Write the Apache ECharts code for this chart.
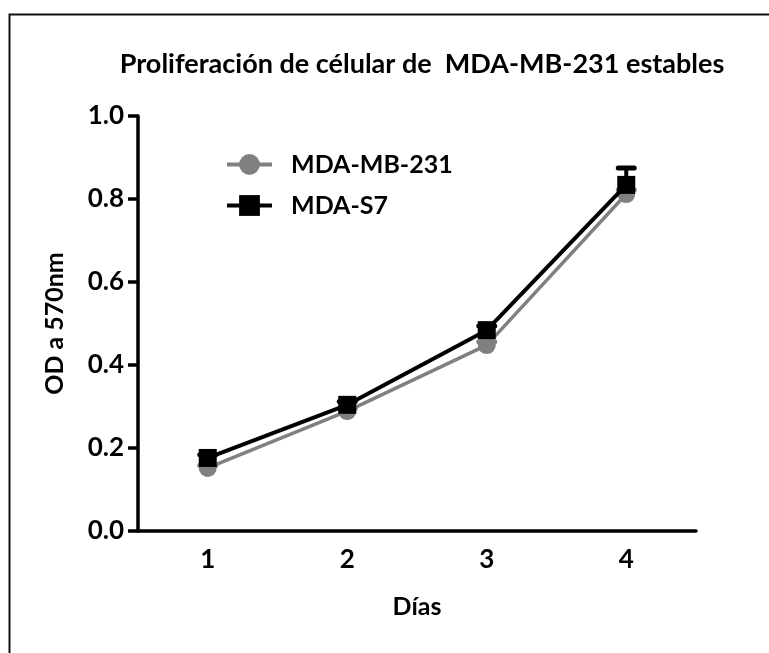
<!DOCTYPE html>
<html>
<head>
<meta charset="utf-8">
<script src="https://cdn.jsdelivr.net/npm/echarts@6/dist/echarts.min.js"></script>
<style>html,body{margin:0;padding:0;background:#fff;}#c{width:769px;height:653px;}</style>
</head>
<body>
<div id="c"></div>
<script>
var days = ['1', '2', '3', '4'];
var mdaMB231 = [0.152, 0.289, 0.448, 0.812];
var mdaS7 = [0.176, 0.304, 0.484, 0.834];
var mdaS7ErrUp = [0.008, 0.008, 0.010, 0.041];
var mdaMB231ErrUp = [0.006, 0.006, 0.008, 0.010];
var yTicks = [0, 0.2, 0.4, 0.6, 0.8, 1.0];

var FONT = 'Lato';
var chart = echarts.init(document.getElementById('c'));

function errSeries(name, vals, errs, color, z) {
  return {
    type: 'custom',
    name: name + ' err',
    z: z,
    silent: true,
    data: vals.map(function (v, i) { return [i, v, v + errs[i]]; }),
    renderItem: function (params, api) {
      var lo = api.coord([api.value(0), api.value(1)]);
      var hi = api.coord([api.value(0), api.value(2)]);
      var hw = 10;
      var st = { stroke: color, lineWidth: 5, lineCap: 'round' };
      return {
        type: 'group',
        children: [
          { type: 'line', shape: { x1: hi[0], y1: hi[1], x2: lo[0], y2: lo[1] }, style: { stroke: color, lineWidth: 4 } },
          { type: 'line', shape: { x1: hi[0] - hw + 2, y1: hi[1], x2: hi[0] + hw - 2, y2: hi[1] }, style: st }
        ]
      };
    }
  };
}

chart.setOption({
  animation: false,
  backgroundColor: '#ffffff',
  title: {
    text: 'Proliferación de célular de  MDA-MB-231 estables',
    left: 417, textAlign: 'center', top: 46,
    textStyle: { fontFamily: FONT, fontWeight: 'bold', fontSize: 27, color: '#000' }
  },
  legend: {
    left: 220, top: 147, orient: 'vertical',
    itemWidth: 45, itemHeight: 26, itemGap: 16,
    data: ['MDA-MB-231', 'MDA-S7'],
    lineStyle: { width: 4 },
    textStyle: { fontFamily: FONT, fontWeight: 'bold', fontSize: 25, color: '#000', padding: [0, 0, 0, 14] }
  },
  grid: { left: 138, right: 73, top: 116, bottom: 122 },
  xAxis: {
    type: 'category', data: days, boundaryGap: true,
    name: 'Días', nameLocation: 'middle', nameGap: 63,
    nameTextStyle: { fontFamily: FONT, fontWeight: 'bold', fontSize: 25, color: '#000' },
    axisLine: { lineStyle: { color: '#000', width: 3.5 } },
    axisTick: { alignWithLabel: true, length: 10, lineStyle: { color: '#000', width: 3.5 } },
    axisLabel: { fontFamily: FONT, fontWeight: 'bold', fontSize: 26, color: '#000', margin: 16 }
  },
  yAxis: {
    type: 'value', min: 0, max: 1, interval: 0.2,
    name: 'OD a 570nm', nameLocation: 'middle', nameGap: 71, nameRotate: 90,
    nameTextStyle: { fontFamily: FONT, fontWeight: 'bold', fontSize: 25, color: '#000' },
    splitLine: { show: false },
    axisLine: { show: true, lineStyle: { color: '#000', width: 3.5 } },
    axisTick: { show: true, length: 10, lineStyle: { color: '#000', width: 3.5 } },
    axisLabel: {
      fontFamily: FONT, fontWeight: 'bold', fontSize: 26, color: '#000', margin: 14,
      formatter: function (v) { return v.toFixed(1); }
    }
  },
  series: [
    errSeries('MDA-MB-231', mdaMB231, mdaMB231ErrUp, '#808080', 1),
    {
      name: 'MDA-MB-231', type: 'line', data: mdaMB231, z: 2,
      symbol: 'circle', symbolSize: 18,
      lineStyle: { color: '#808080', width: 3.5 },
      itemStyle: { color: '#808080' }
    },
    errSeries('MDA-S7', mdaS7, mdaS7ErrUp, '#000000', 3),
    {
      name: 'MDA-S7', type: 'line', data: mdaS7, z: 4,
      symbol: 'rect', symbolSize: 18,
      lineStyle: { color: '#000', width: 4 },
      itemStyle: { color: '#000' }
    }
  ],
  graphic: [{
    type: 'rect', left: 7, top: 12,
    shape: { width: 800, height: 700 },
    style: { fill: 'none', stroke: '#111', lineWidth: 2 }
  }]
});
</script>
</body>
</html>
